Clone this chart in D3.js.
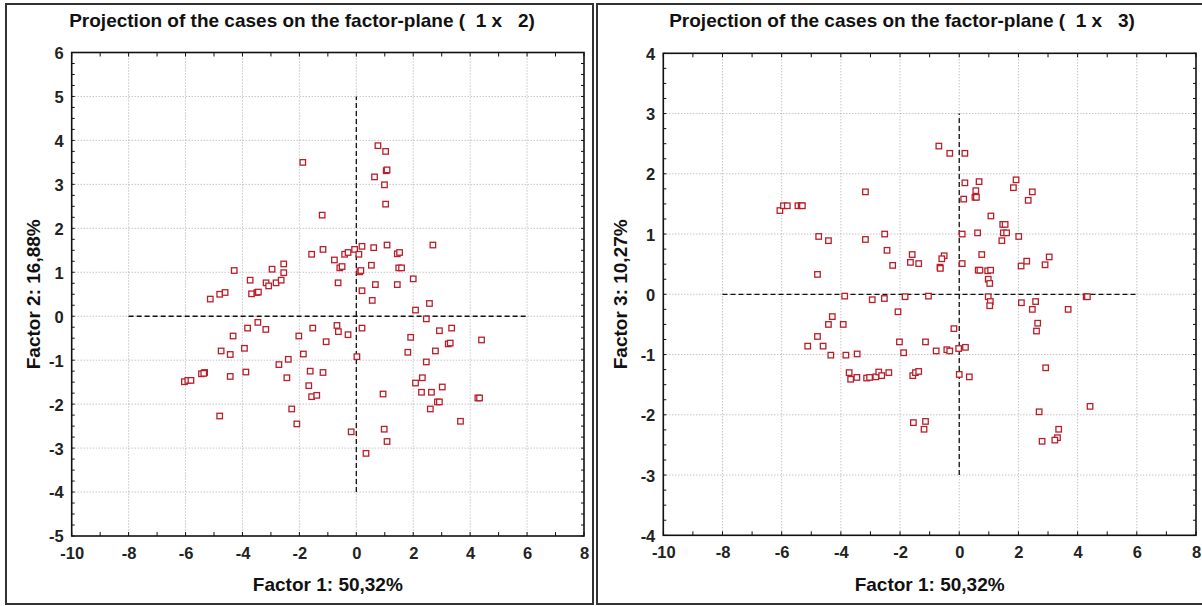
<!DOCTYPE html>
<html><head><meta charset="utf-8">
<script src="https://cdn.jsdelivr.net/npm/d3@7"></script>
<style>
body{margin:0;background:#fff;}
svg{display:block;font-family:"Liberation Sans",Arial,sans-serif;}
</style></head><body>
<svg id="chart" width="1202" height="606"></svg>
<script>
// ---------- texts ----------
const titles = ["Projection of the cases on the factor-plane (  1 x   2)",
                "Projection of the cases on the factor-plane (  1 x   3)"];
const xLabel = "Factor 1: 50,32%";
const yLabels = ["Factor 2: 16,88%", "Factor 3: 10,27%"];
// ---------- tick labels ----------
const xTicks = [-10, -8, -6, -4, -2, 0, 2, 4, 6, 8];
const yTicks12 = [-5, -4, -3, -2, -1, 0, 1, 2, 3, 4, 5, 6];
const yTicks13 = [-4, -3, -2, -1, 0, 1, 2, 3, 4];
// ---------- plane 1 x 2 ----------
const f1_12 = [-1.88,-1.20,-1.57,-1.17,-4.29,-5.13,-4.80,-4.61,-3.73,-3.68,-3.49,-3.44,-2.96,-3.17,-3.08,-2.82,-2.64,-2.55,-2.55,
  0.76,1.03,0.64,1.05,1.08,0.99,1.03,2.69,-0.77,-0.58,-0.50,-0.64,-0.41,-0.29,-0.06,0.09,0.20,0.61,1.08,0.12,0.16,0.53,0.20,0.67,0.56,
  1.44,1.52,1.49,1.59,1.44,2.00,2.57,2.08,
  2.46,-3.82,-3.46,-3.18,-4.33,-4.75,-4.43,-3.93,-6.04,-5.92,-5.81,-5.44,-5.33,-5.36,-4.43,-3.88,-4.80,-2.72,-2.39,-2.44,-2.02,-1.53,
  -1.06,-1.86,-1.62,-1.17,-1.67,-1.57,-1.39,-2.27,-2.09,-0.68,-0.63,-0.29,0.20,0.02,0.94,-0.18,0.98,1.08,0.34,1.91,2.92,3.35,1.81,
  2.46,2.78,3.23,3.30,4.40,2.08,2.32,2.29,2.64,3.02,2.85,2.92,2.60,4.27,4.33,3.66];
const f2_12 = [3.50,2.30,1.41,1.52,1.04,0.39,0.50,0.54,0.82,0.51,0.54,0.55,1.07,0.76,0.69,0.76,0.82,1.19,0.99,
  3.88,3.75,3.17,3.31,3.33,2.99,2.55,1.62,1.28,1.10,1.13,0.76,1.41,1.45,1.52,1.41,1.59,1.56,1.62,1.01,1.04,1.16,0.58,0.72,0.36,
  1.42,1.45,1.10,1.10,0.72,0.85,0.29,0.14,
  -0.06,-0.27,-0.14,-0.30,-0.45,-0.79,-0.87,-0.73,-1.49,-1.46,-1.46,-1.31,-1.28,-1.30,-1.37,-1.27,-2.27,-1.10,-0.98,-1.40,-0.45,-0.27,
  -0.58,-0.86,-1.25,-1.28,-1.58,-1.83,-1.80,-2.11,-2.45,-0.21,-0.35,-0.42,-0.27,-0.92,-1.77,-2.63,-2.57,-2.85,-3.12,-0.48,-0.33,-0.27,-0.82,
  -1.04,-0.79,-0.63,-0.61,-0.54,-1.52,-1.40,-1.73,-1.73,-1.61,-1.95,-1.95,-2.11,-1.86,-1.86,-2.39];
// ---------- plane 1 x 3 ----------
const f1_13 = [-3.17,-6.06,-5.94,-5.81,-5.45,-5.34,-5.30,-4.75,-4.42,-4.79,-3.17,-2.52,-2.44,-2.25,-1.65,-1.59,-1.37,-0.69,
  -3.87,-2.94,-2.53,-1.83,-1.04,-4.29,-2.07,-0.32,0.19,0.19,0.67,0.56,0.53,0.58,0.15,1.92,1.83,2.47,2.33,1.07,1.47,1.55,1.49,1.60,
  1.44,2.01,0.10,0.62,0.76,0.10,-0.51,-0.59,-0.65,-0.64,0.64,0.70,0.96,1.06,0.98,1.03,2.09,2.28,2.90,3.04,0.98,1.05,1.03,2.10,2.58,
  2.47,3.68,4.29,4.33,-4.42,-3.92,-4.79,-5.12,-4.60,-4.34,-3.83,-3.45,-2.02,-1.88,-1.14,-0.78,-3.72,-3.67,-3.46,-3.13,-3.03,-2.82,
  -2.72,-2.62,-2.38,-1.57,-1.48,-1.37,-1.55,-1.14,-1.19,2.65,2.61,-0.18,-0.42,-0.32,-0.02,0.21,0.00,0.34,2.92,2.70,3.36,3.32,3.23,
  2.80,4.42];
const f3_13 = [1.70,1.39,1.47,1.47,1.47,1.47,1.47,0.96,0.89,0.33,0.91,1.00,0.73,0.48,0.53,0.66,0.51,2.46,
  -0.03,-0.09,-0.07,-0.04,-0.03,-0.37,-0.29,2.34,2.34,1.85,1.87,1.72,1.61,1.61,1.58,1.90,1.77,1.70,1.56,1.30,1.16,1.16,1.02,1.02,
  0.89,0.96,1.00,1.02,0.66,0.51,0.64,0.59,0.45,0.43,0.40,0.40,0.39,0.40,0.25,0.18,0.47,0.55,0.49,0.62,-0.04,-0.12,-0.19,-0.14,-0.12,
  -0.25,-0.25,-0.04,-0.04,-0.50,-0.50,-0.70,-0.86,-0.86,-1.01,-1.01,-0.99,-0.79,-0.97,-0.79,-0.94,-1.30,-1.41,-1.38,-1.39,-1.38,-1.37,
  -1.29,-1.35,-1.30,-1.35,-1.30,-1.28,-2.13,-2.11,-2.24,-0.48,-0.61,-0.57,-0.92,-0.94,-0.90,-0.88,-1.33,-1.37,-1.22,-1.95,-2.24,-2.38,-2.42,
  -2.44,-1.86];

const svg = d3.select("#chart");
svg.append("rect").attr("width",1202).attr("height",606).attr("fill","#fff");

const panels = [
  {box:[6,4,593,604], plot:[71.7,52.5,584,536], yDom:[-5,6], yTicks:yTicks12, xs:f1_12, ys:f2_12,
   vline:[-4,5], title:titles[0], ylab:yLabels[0], ylabX:40, titleX:302},
  {box:[597,4,1220,604], plot:[663.3,53.3,1196,535.3], yDom:[-4,4], yTicks:yTicks13, xs:f1_13, ys:f3_13,
   vline:[-3,3], title:titles[1], ylab:yLabels[1], ylabX:627, titleX:902}
];

const fontTick = "16.5px", fontLab = "19px";
const fmt = d => String(d);

panels.forEach(p => {
  const g = svg.append("g");
  const [bx0,by0,bx1,by1] = p.box;
  g.append("rect").attr("x",bx0).attr("y",by0).attr("width",bx1-bx0).attr("height",by1-by0)
    .attr("fill","none").attr("stroke","#333").attr("stroke-width",2);
  const [px0,py0,px1,py1] = p.plot;
  const x = d3.scaleLinear().domain([-10,8]).range([px0,px1]);
  const y = d3.scaleLinear().domain(p.yDom).range([py1,py0]);

  // title
  g.append("text").attr("x",p.titleX).attr("y",27)
    .attr("text-anchor","middle").style("font-weight","bold").style("font-size",fontLab)
    .attr("fill","#111").style("white-space","pre").text(p.title);

  // grid
  const grid = g.append("g").attr("stroke","#aaa").attr("stroke-width",1).attr("stroke-dasharray","1,2");
  grid.selectAll("line.v").data(xTicks.slice(1,-1)).join("line").attr("class","v")
    .attr("x1",d=>x(d)).attr("x2",d=>x(d)).attr("y1",py0).attr("y2",py1);
  grid.selectAll("line.h").data(p.yTicks.slice(1,-1)).join("line").attr("class","h")
    .attr("x1",px0).attr("x2",px1).attr("y1",d=>y(d)).attr("y2",d=>y(d));

  // reference dashed lines
  g.append("line").attr("x1",x(-8)).attr("x2",x(6)).attr("y1",y(0)).attr("y2",y(0))
    .attr("stroke","#111").attr("stroke-width",1.3).attr("stroke-dasharray","5,3");
  g.append("line").attr("x1",x(0)).attr("x2",x(0)).attr("y1",y(p.vline[0])).attr("y2",y(p.vline[1]))
    .attr("stroke","#111").attr("stroke-width",1.3).attr("stroke-dasharray","5,3");

  // points
  const pts = p.xs.map((v,i)=>[v,p.ys[i]]);
  g.append("g").selectAll("rect").data(pts).join("rect")
    .attr("x",d=>x(d[0])-2.75).attr("y",d=>y(d[1])-2.75).attr("width",5.5).attr("height",5.5)
    .attr("fill","#fff").attr("stroke","#b81f2b").attr("stroke-width",1.3);

  // minor inward ticks
  const xMinor = d3.range(-10,8.001,1);
  const yMinor = d3.range(p.yDom[0],p.yDom[1]+0.001,0.25);
  const tk = g.append("g").attr("stroke","#111").attr("stroke-width",1);
  tk.selectAll("line.tb").data(xMinor).join("line").attr("class","tb")
    .attr("x1",d=>x(d)).attr("x2",d=>x(d)).attr("y1",py1).attr("y2",py1-4);
  tk.selectAll("line.tt").data(xMinor).join("line").attr("class","tt")
    .attr("x1",d=>x(d)).attr("x2",d=>x(d)).attr("y1",py0).attr("y2",py0+4);
  tk.selectAll("line.tl").data(yMinor).join("line").attr("class","tl")
    .attr("x1",px0).attr("x2",px0+3).attr("y1",d=>y(d)).attr("y2",d=>y(d));
  tk.selectAll("line.tr").data(yMinor).join("line").attr("class","tr")
    .attr("x1",px1).attr("x2",px1-3).attr("y1",d=>y(d)).attr("y2",d=>y(d));

  // frame
  g.append("rect").attr("x",px0).attr("y",py0).attr("width",px1-px0).attr("height",py1-py0)
    .attr("fill","none").attr("stroke","#111").attr("stroke-width",1.6);

  // tick labels via axes
  const ax = g.append("g").attr("transform",`translate(0,${py1})`)
    .call(d3.axisBottom(x).tickValues(xTicks).tickSize(0).tickPadding(11).tickFormat(fmt));
  const ay = g.append("g").attr("transform",`translate(${px0},0)`)
    .call(d3.axisLeft(y).tickValues(p.yTicks).tickSize(0).tickPadding(8).tickFormat(fmt));
  [ax,ay].forEach(a=>{
    a.select(".domain").remove();
    a.attr("font-size",null).attr("font-family",null);
    a.selectAll("text").style("font-size",fontTick).style("font-weight","bold")
      .style("font-family","'Liberation Sans',Arial,sans-serif").attr("fill","#222");
  });
  ay.selectAll("text").attr("dy","0.36em");
  ax.selectAll("text").attr("dy","0.71em");

  // axis titles
  g.append("text").attr("x",(px0+px1)/2).attr("y",591).attr("text-anchor","middle")
    .style("font-weight","bold").style("font-size",fontLab).attr("fill","#111").text(xLabel);
  g.append("text").attr("transform",`translate(${p.ylabX},${(py0+py1)/2}) rotate(-90)`)
    .attr("text-anchor","middle").style("font-weight","bold").style("font-size",fontLab)
    .attr("fill","#111").text(p.ylab);
});
</script>
</body></html>
